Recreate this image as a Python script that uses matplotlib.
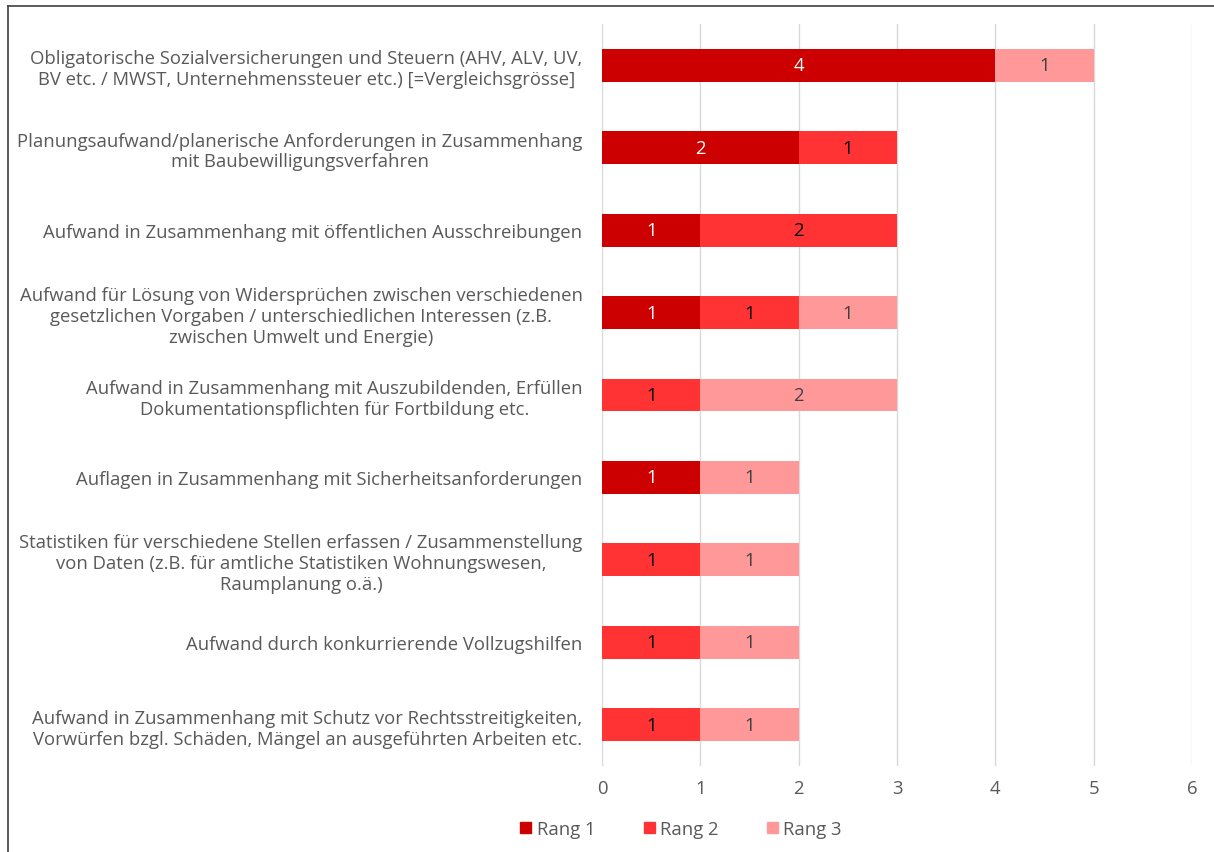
import numpy as np
import matplotlib.pyplot as plt
from matplotlib.lines import Line2D
from matplotlib.patches import Patch

plt.rcParams['font.family'] = ['Open Sans', 'DejaVu Sans']

categories = [
    "Obligatorische Sozialversicherungen und Steuern (AHV, ALV, UV,\nBV etc. / MWST, Unternehmenssteuer etc.) [=Vergleichsgrösse]",
    "Planungsaufwand/planerische Anforderungen in Zusammenhang\nmit Baubewilligungsverfahren",
    "Aufwand in Zusammenhang mit öffentlichen Ausschreibungen",
    "Aufwand für Lösung von Widersprüchen zwischen verschiedenen\ngesetzlichen Vorgaben / unterschiedlichen Interessen (z.B.\nzwischen Umwelt und Energie)",
    "Aufwand in Zusammenhang mit Auszubildenden, Erfüllen\nDokumentationspflichten für Fortbildung etc.",
    "Auflagen in Zusammenhang mit Sicherheitsanforderungen",
    "Statistiken für verschiedene Stellen erfassen / Zusammenstellung\nvon Daten (z.B. für amtliche Statistiken Wohnungswesen,\nRaumplanung o.ä.)",
    "Aufwand durch konkurrierende Vollzugshilfen",
    "Aufwand in Zusammenhang mit Schutz vor Rechtsstreitigkeiten,\nVorwürfen bzgl. Schäden, Mängel an ausgeführten Arbeiten etc.",
]
rang1 = [4, 2, 1, 1, 0, 1, 0, 0, 0]
rang2 = [0, 1, 2, 1, 1, 0, 1, 1, 1]
rang3 = [1, 0, 0, 1, 2, 1, 1, 1, 1]
series_names = ["Rang 1", "Rang 2", "Rang 3"]

colors = ["#CC0000", "#FF3333", "#FF9999"]
label_colors = ["white", "black", "#404040"]
gray = "#595959"
fs = 13.3

fig = plt.figure(figsize=(12.14, 8.53), dpi=100)
ax = fig.add_axes([0.4959, 0.1008, 0.486, 0.8699])

y = np.arange(len(categories))
left = np.zeros(len(categories))
for vals, col, lc in zip([rang1, rang2, rang3], colors, label_colors):
    vals = np.array(vals, dtype=float)
    bars = ax.barh(y, vals, left=left, height=0.4, color=col, zorder=3)
    for b, v in zip(bars, vals):
        if v > 0:
            ax.text(b.get_x() + b.get_width() / 2, b.get_y() + b.get_height() / 2,
                    f"{int(v)}", ha='center', va='center', color=lc, fontsize=fs, zorder=4)
    left += vals

ax.set_ylim(len(categories) - 0.5, -0.5)
ax.set_xlim(0, 6)
ax.set_xticks(range(7))
ax.set_yticks(y)
ax.set_yticklabels(categories, multialignment='center', linespacing=1.2)
ax.tick_params(axis='y', length=0, pad=14, labelsize=fs, labelcolor=gray)
ax.tick_params(axis='x', length=0, pad=9, labelsize=fs, labelcolor=gray)
ax.grid(axis='x', color='#D9D9D9', linewidth=1, zorder=0)
for s in ax.spines.values():
    s.set_visible(False)

handles = [Patch(color=c, label=n) for c, n in zip(colors, series_names)]
leg = fig.legend(handles=handles, loc='center', bbox_to_anchor=(0.561, 0.027), ncol=3,
                 frameon=False, fontsize=fs, handlelength=0.6, handleheight=0.6,
                 columnspacing=2.6, handletextpad=0.3)
for t in leg.get_texts():
    t.set_color(gray)

# chart frame (only top and left visible in the crop)
fig.add_artist(Line2D([0.0062, 1.0], [0.9918, 0.9918], transform=fig.transFigure, color='#404040', linewidth=1.2))
fig.add_artist(Line2D([0.0062, 0.0062], [0.0, 0.9918], transform=fig.transFigure, color='#404040', linewidth=1.2))

fig.savefig("out.png", dpi=100)
